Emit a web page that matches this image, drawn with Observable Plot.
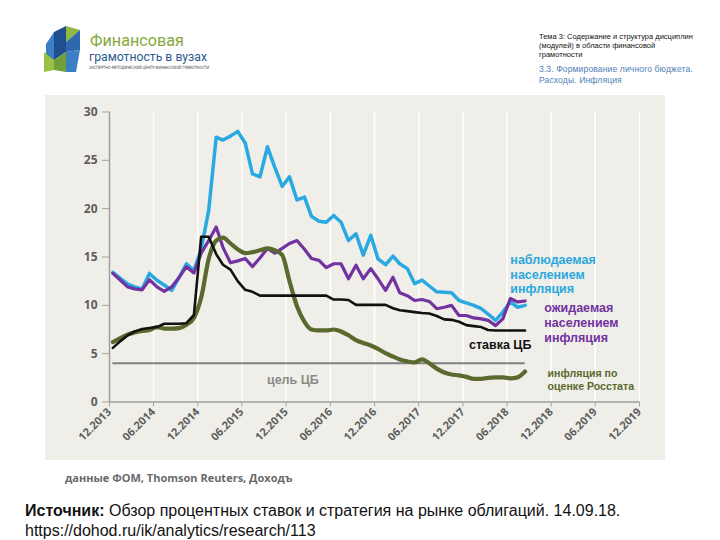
<!DOCTYPE html>
<html>
<head>
<meta charset="utf-8">
<script src="https://cdn.jsdelivr.net/npm/d3@7"></script>
<script src="https://cdn.jsdelivr.net/npm/@observablehq/plot@0.6"></script>
<style>
  html, body { margin: 0; padding: 0; background: #fff; }
  body { width: 720px; height: 540px; position: relative; overflow: hidden; font-family: "Liberation Sans", Arial, sans-serif; }
  #logo { position: absolute; left: 36px; top: 22px; }
  #topic { position: absolute; left: 539px; top: 32px; width: 180px; font-size: 7.5px; line-height: 9px; color: #111; }
  #subtopic { position: absolute; left: 539px; top: 63.5px; width: 180px; font-size: 8.6px; line-height: 11.5px; color: #4f7fb8; letter-spacing: 0.1px; }
  #panel { position: absolute; left: 45px; top: 95px; width: 620px; height: 365px; background: #efeee8; }
  #chart { position: absolute; left: 0; top: 0; }
  #datasrc { position: absolute; left: 65px; top: 470px; font-family: "Open Sans", sans-serif; font-weight: bold; font-size: 11px; color: #6a6a6a; }
  #source { position: absolute; left: 25px; top: 501px; font-size: 16px; line-height: 20px; color: #111; }
</style>
</head>
<body>
<svg id="logo" width="260" height="58" viewBox="0 0 260 58">
  <polygon points="10,22 18,10 18,48 10,48" fill="#3d7fc4"/>
  <polygon points="18,10 30,4 30,30 18,38" fill="#1f4f8f"/>
  <polygon points="30,4 44,8 30,20" fill="#8fb83e"/>
  <polygon points="30,20 44,8 44,28 30,30" fill="#2e68ad"/>
  <polygon points="8,30 18,38 18,48 8,50" fill="#9cc044"/>
  <polygon points="18,38 30,30 30,50 18,48" fill="#6fa03a"/>
  <polygon points="30,30 44,28 40,50 30,50" fill="#3d7fc4"/>
  <text x="54" y="23.5" font-family="Roboto, sans-serif" font-size="16.5" fill="#86a83c" textLength="94" lengthAdjust="spacingAndGlyphs">Финансовая</text>
  <text x="53" y="38.5" font-family="Roboto, sans-serif" font-size="12" fill="#2b5a8c" textLength="118" lengthAdjust="spacingAndGlyphs">грамотность в вузах</text>
  <text x="53" y="47" font-family="DejaVu Sans, sans-serif" font-size="4.4" fill="#444" textLength="120" lengthAdjust="spacingAndGlyphs">ЭКСПЕРТНО-МЕТОДИЧЕСКИЙ ЦЕНТР ФИНАНСОВОЙ ГРАМОТНОСТИ</text>
</svg>
<div id="topic">Тема 3: Содержание и структура дисциплин<br>(модулей) в области финансовой<br>грамотности</div>
<div id="subtopic">3.3. Формирование личного бюджета.<br>Расходы. Инфляция</div>
<div id="panel"><div id="chart"></div></div>
<div id="datasrc">данные ФОМ, Thomson Reuters, Доходъ</div>
<div id="source"><b>Источник:</b> Обзор процентных ставок и стратегия на рынке облигаций. 14.09.18.<br>https://dohod.ru/ik/analytics/research/113</div>
<script>
// ---- data ----
const months = [
  "2013-12",
  "2014-01","2014-02","2014-03","2014-04","2014-05","2014-06","2014-07","2014-08","2014-09","2014-10","2014-11","2014-12",
  "2015-01","2015-02","2015-03","2015-04","2015-05","2015-06","2015-07","2015-08","2015-09","2015-10","2015-11","2015-12",
  "2016-01","2016-02","2016-03","2016-04","2016-05","2016-06","2016-07","2016-08","2016-09","2016-10","2016-11","2016-12",
  "2017-01","2017-02","2017-03","2017-04","2017-05","2017-06","2017-07","2017-08","2017-09","2017-10","2017-11","2017-12",
  "2018-01","2018-02","2018-03","2018-04","2018-05","2018-06","2018-07","2018-08"
];
const observed = [
  13.4,12.8,12.2,11.9,11.7,13.3,12.6,12.1,11.55,12.9,
  14.3,13.6,15.8,19.8,27.4,27.1,27.5,28.0,26.8,23.6,
  23.3,26.4,24.3,22.3,23.3,20.9,21.2,19.2,18.7,18.6,
  19.3,18.6,16.7,17.4,15.2,17.25,14.8,14.2,15.1,14.3,
  13.8,12.25,12.6,12.0,11.4,11.35,11.3,10.5,10.25,10.0,
  9.65,9.1,8.45,9.3,10.35,9.8,10.0
];
const expected = [
  13.3,12.6,11.9,11.7,11.6,12.65,11.9,11.45,11.9,12.9,
  14.0,13.35,15.4,16.7,18.1,16.0,14.4,14.6,14.85,14.0,
  14.9,15.9,15.4,15.9,16.4,16.7,15.8,14.85,14.65,13.9,
  14.3,14.3,12.75,14.15,12.75,13.8,12.75,11.55,12.9,11.3,
  11.0,10.5,10.6,10.4,9.65,9.8,10.0,8.95,8.95,8.7,
  8.6,8.45,7.9,8.6,10.7,10.35,10.45
];
const keyRate = [
  5.6,6.3,6.9,7.3,7.55,7.65,7.75,8.1,8.1,8.1,
  8.15,9.0,17.1,17.1,15.3,14.2,13.7,12.5,11.6,11.4,
  11.0,11.0,11.0,11.0,11.0,11.0,11.0,11.0,11.0,11.0,
  10.6,10.6,10.55,10.05,10.05,10.05,10.05,10.05,9.7,9.5,
  9.4,9.3,9.2,9.15,8.9,8.55,8.5,8.3,7.95,7.85,
  7.75,7.45,7.4,7.4,7.4,7.4,7.4
];
const rosstat = [
  6.2,6.6,7.0,7.2,7.35,7.45,7.75,7.6,7.6,7.65,
  8.0,8.7,10.8,14.8,16.7,17.0,16.4,15.8,15.4,15.5,
  15.7,15.9,15.7,15.2,12.5,9.9,8.3,7.5,7.4,7.4,
  7.5,7.3,6.9,6.4,6.1,5.85,5.5,5.05,4.7,4.4,
  4.2,4.1,4.4,4.0,3.45,3.05,2.85,2.75,2.6,2.4,
  2.4,2.5,2.55,2.55,2.45,2.55,3.15
];
const cbTarget = 4;
const xTickLabels = ["12.2013","06.2014","12.2014","06.2015","12.2015","06.2016","12.2016","06.2017","12.2017","06.2018","12.2018","06.2019","12.2019"];
const yTicks = [0, 5, 10, 15, 20, 25, 30];
const seriesLabels = {
  observed: "наблюдаемая\nнаселением\nинфляция",
  expected: "ожидаемая\nнаселением\nинфляция",
  keyRate: "ставка ЦБ",
  target: "цель ЦБ",
  rosstat: "инфляция по\nоценке Росстата"
};

// ---- build ----
const toDate = s => new Date(s + "-15T00:00:00Z");
const tickDates = xTickLabels.map(s => { const [m, y] = s.split("."); return new Date(Date.UTC(+y, +m - 1, 1)); });
const rows = months.map((m, i) => ({date: toDate(m), obs: observed[i], exp: expected[i], rate: keyRate[i], cpi: rosstat[i]}));
const d0 = rows[0].date, d1 = rows[rows.length - 1].date;

const bigLabels = [
  {x: new Date("2018-06-15"), y: 13.26, text: seriesLabels.observed, color: "#2aa8df"},
  {x: new Date("2018-11-02"), y: 8.25, text: seriesLabels.expected, color: "#7232a0"},
  {x: new Date("2017-12-26"), y: 6.0, text: seriesLabels.keyRate, color: "#111111"},
  {x: new Date("2015-09-13"), y: 2.33, text: seriesLabels.target, color: "#8a8a8a"}
];
const smallLabels = [
  {x: new Date("2018-11-16"), y: 2.33, text: seriesLabels.rosstat, color: "#5a6a2e"}
];

const chart = Plot.plot({
  width: 620,
  height: 365,
  marginLeft: 64,
  marginRight: 26,
  marginTop: 16.5,
  marginBottom: 58.5,
  style: {background: "transparent", fontFamily: "'Open Sans', sans-serif", color: "#5e5e5e", overflow: "visible"},
  x: {type: "utc", domain: [tickDates[0], tickDates[tickDates.length - 1]]},
  y: {domain: [0, 30]},
  marks: [
    Plot.gridX(tickDates, {stroke: "#ffffff", strokeOpacity: 1, strokeWidth: 1.5}),
    Plot.ruleY([0], {stroke: "#9c9c9c", strokeWidth: 1.5}),
    Plot.ruleX([tickDates[0]], {y1: 0, y2: 30, stroke: "#9c9c9c", strokeWidth: 1.5}),
    Plot.axisY({ticks: yTicks, tickSize: 7, tickPadding: 5, fontSize: 12, fontWeight: "bold"}),
    Plot.axisX({ticks: tickDates, tickFormat: d => xTickLabels[tickDates.findIndex(t => +t === +d)], tickRotate: -45, tickSize: 5, tickPadding: 3, fontSize: 11, fontWeight: "bold"}),
    Plot.ruleY([{y: cbTarget, x1: d0, x2: d1}], {y: "y", x1: "x1", x2: "x2", stroke: "#808080", strokeWidth: 2}),
    Plot.line(rows, {x: "date", y: "obs", stroke: "#29a9e1", strokeWidth: 3.5, strokeLinejoin: "round"}),
    Plot.line(rows, {x: "date", y: "exp", stroke: "#7232a0", strokeWidth: 3.2, strokeLinejoin: "round"}),
    Plot.line(rows, {x: "date", y: "cpi", stroke: "#5a6a2e", strokeWidth: 4.2, curve: "monotone-x", strokeLinejoin: "round"}),
    Plot.line(rows, {x: "date", y: "rate", stroke: "#111111", strokeWidth: 2.6, strokeLinejoin: "round"}),
    Plot.text(bigLabels, {x: "x", y: "y", text: "text", fill: "color", textAnchor: "start", lineAnchor: "middle", lineHeight: 1.18, fontSize: 12.5, fontWeight: "bold", fontFamily: "'Liberation Sans', Arial, sans-serif"}),
    Plot.text(smallLabels, {x: "x", y: "y", text: "text", fill: "color", textAnchor: "start", lineAnchor: "middle", lineHeight: 1.17, fontSize: 10.6, fontWeight: "bold", fontFamily: "'Liberation Sans', Arial, sans-serif"})
  ]
});
document.getElementById("chart").appendChild(chart);
d3.select(chart).selectAll('[aria-label="y-axis tick"], [aria-label="x-axis tick"]').attr("stroke", "#a3a3a3");
</script>
</body>
</html>
